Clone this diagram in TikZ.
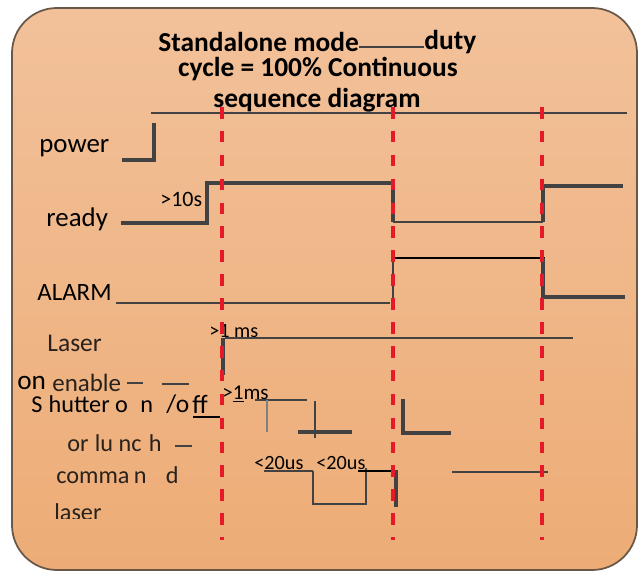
\documentclass[tikz,border=0pt]{standalone}
\usepackage{fontspec}
\setmainfont{Carlito}
\usetikzlibrary{positioning,calc}
\definecolor{PanelTop}{RGB}{242, 193, 154}
\definecolor{PanelBottom}{RGB}{237, 172, 118}
\definecolor{PanelEdge}{RGB}{105, 88, 72}
\definecolor{CutRed}{RGB}{230, 25, 40}
\definecolor{WireGray}{RGB}{66, 66, 66}
\definecolor{LabelInk}{RGB}{40, 33, 28}

\begin{document}
\begin{tikzpicture}[x=0.02cm, y=-0.02cm,
  sigline/.style={draw=WireGray, line width=2pt},
  thinline/.style={draw=WireGray, line width=0.7pt},
  cutline/.style={draw=CutRed, line width=2.1pt, dash pattern=on 6.6pt off 7pt},
  ttl/.style={inner sep=0pt, font=\bfseries\fontsize{15.6}{18}\selectfont},
  lbl/.style={inner sep=0pt, anchor=west, font=\fontsize{15.3}{18}\selectfont},
  sublbl/.style={inner sep=0pt, anchor=west, text=LabelInk, font=\fontsize{13.8}{16}\selectfont},
  note/.style={inner sep=0pt, anchor=west, font=\fontsize{11.5}{14}\selectfont}]
  \useasboundingbox (0, 0) rectangle (638, 574);

  % Panel
  \shade[top color=PanelTop, bottom color=PanelBottom, draw=PanelEdge, line width=1pt,
    rounded corners=0.9cm] (12, 8) rectangle (637, 570);

  % Title
  \node[ttl, anchor=west] (ttlA) at (158, 42) {Standalone mode};
  \node[ttl, anchor=west] (ttlB) at (424, 42) {duty};
  \draw[thinline] ([yshift=-2.8pt]ttlA.east) -- ([yshift=-2.8pt]ttlB.west);
  \node[ttl] (ttlC) at (318, 69) {cycle = 100\% Continuous};
  \node[ttl] (ttlD) at (317, 100) {sequence diagram};
  \draw[thinline, line width=0.9pt] (151, 113) -- (627, 113);

  % power
  \node[lbl] (power) at (39, 148) {power};
  \draw[sigline] (122, 160) -- (154, 160) -- (154, 123);

  % ready
  \node[lbl] (ready) at (46, 219) {ready};
  \node[note, font=\fontsize{12.5}{14}\selectfont] (tReady) at (160, 199) {>10s};
  \draw[sigline, line width=2.3pt] (121, 223) -- (207, 223) -- (207, 183) -- (393, 183) -- (393, 222);
  \draw[sigline, line width=1.4pt] (393, 222) -- (543, 222);
  \draw[sigline] (543, 222) -- (543, 186) -- (623, 186);

  % ALARM
  \node[lbl, font=\fontsize{14.2}{16}\selectfont] (alarm) at (37, 292) {ALARM};
  \draw[thinline] (116, 303) -- (390, 303);
  \draw[sigline, line width=1.2pt] (393, 303) -- (393, 258);
  \draw[black, line width=0.9pt] (393, 258) -- (545, 258);
  \draw[sigline] (543, 258) -- (543, 297) -- (625, 297);

  % Laser on enable
  \node[sublbl, font=\fontsize{14.5}{16}\selectfont] (laser) at (47, 343) {Laser};
  \node[note] (tLaser) at (209, 331) {>1 ms};
  \draw[thinline, line width=1pt] (225, 338) -- (573, 338);
  \draw[sigline, line width=2.2pt] (223, 338) -- (223, 375);
  \node[sublbl, text=black, font=\fontsize{15.5}{16}\selectfont] (on) at (17, 383) {on};
  \node[sublbl, font=\fontsize{14.2}{16}\selectfont] (enable) at (52, 383) {enable};
  \draw[thinline] (127, 383) -- (143, 383);
  \draw[thinline] (162, 384) -- (189, 384);

  % Shutter on/off
  \node[sublbl, text=black] (shutter) at (31, 404) {S\hspace{3.5pt}hutter o\hspace{7pt}n};
  \node[sublbl, text=black, font=\fontsize{14.5}{16}\selectfont] (slash) at (166, 404) {/o};
  \node[sublbl, text=black, font=\fontsize{15}{16}\selectfont] (off) at (192, 404) {ff};
  \draw[black, line width=0.8pt] (193, 417) -- (220, 417);
  \node[note, font=\fontsize{12}{14}\selectfont] (tShut) at (222, 394) {>\underline{1}ms};
  \draw[thinline] (255, 400) -- (307, 400);
  \draw[gray, line width=1.2pt] (267, 400) -- (267, 432);
  \draw[thinline, line width=1.2pt] (315, 401) -- (315, 438);
  \draw[sigline, line width=2.3pt] (298, 432) -- (352, 432);
  \draw[sigline] (403, 399) -- (403, 433) -- (451, 433);

  % or lunch command laser
  \node[sublbl] (lunch) at (67, 443) {or\hspace{0.5pt} lu nc\hspace{1pt} h};
  \draw[thinline] (175, 446) -- (192, 446);
  \node[sublbl] (cmd) at (56, 475) {comma\hspace{2.5pt}n\hspace{11pt}d};
  \begin{scope}
    \clip (40, 490) rectangle (130, 518);
    \node[sublbl] (laserB) at (54, 512) {laser};
  \end{scope}
  \node[note] (tCmdA) at (254, 463) {<20us};
  \node[note] (tCmdB) at (316, 463) {<20us};
  \draw[thinline] (264, 471) -- (313, 471);
  \draw[sigline, line width=1.6pt] (313, 471) -- (313, 504) -- (366, 504) -- (366, 468);
  \draw[black, line width=0.7pt] (358, 471) -- (393, 471);
  \draw[sigline] (396, 470) -- (396, 507);
  \draw[thinline] (452, 472) -- (548, 472);

  % Cut lines
  \foreach \x in {222, 393, 542}
    \draw[cutline] (\x, 107) -- (\x, 540);
\end{tikzpicture}
\end{document}
